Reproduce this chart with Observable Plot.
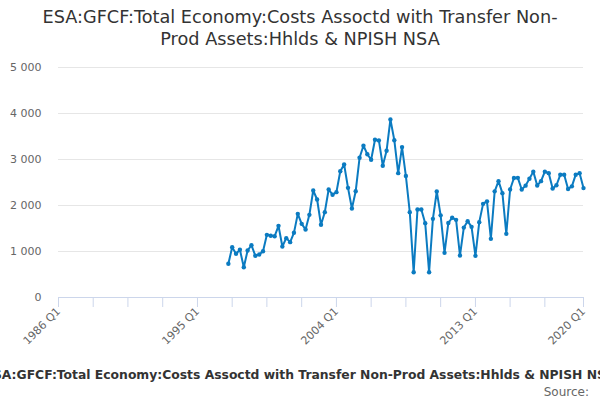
<!DOCTYPE html>
<html>
<head>
<meta charset="utf-8">
<script src="https://cdn.jsdelivr.net/npm/d3@7"></script>
<script src="https://cdn.jsdelivr.net/npm/@observablehq/plot@0.6"></script>
<style>
  html, body { margin: 0; padding: 0; background: #fff; overflow: hidden; }
  body { width: 600px; height: 400px; font-family: "DejaVu Sans", Verdana, sans-serif; }
  #title { height: 55px; box-sizing: border-box; padding-top: 6px; text-align: center; font-size: 17.7px; line-height: 22px; color: #333; }
  #caption { position: relative; height: 40px; }
  #caption .main { position: absolute; left: 50%; top: 8px; transform: translateX(-50%); white-space: nowrap; font-size: 12.35px; font-weight: bold; color: #333; }
  #caption .src { position: absolute; right: 11px; top: 25px; font-size: 12px; color: #666; }
</style>
</head>
<body>
<div id="title">ESA:GFCF:Total Economy:Costs Assoctd with Transfer Non-<br>Prod Assets:Hhlds &amp; NPISH NSA</div>
<div id="chart"></div>
<div id="caption"><span class="main">ESA:GFCF:Total Economy:Costs Assoctd with Transfer Non-Prod Assets:Hhlds &amp; NPISH NSA</span><span class="src">Source:</span></div>
<script>
const titleText = "ESA:GFCF:Total Economy:Costs Assoctd with Transfer Non-Prod Assets:Hhlds & NPISH NSA";
const firstQuarter = "1997 Q1";
const values = [
  733,1094,950,1037,659,1022,1137,906,935,1007,
  1362,1341,1333,1558,1109,1290,1203,1406,1819,1601,
  1478,1797,2326,2130,1580,1855,2348,2235,2290,2745,
  2891,2384,1935,2311,3037,3300,3115,2995,3430,3415,
  2865,3190,3870,3420,2703,3270,2640,1855,550,1913,
  1913,1616,550,1710,2304,1786,971,1620,1735,1688,
  913,1520,1659,1536,905,1638,2036,2090,1275,2308,
  2529,2268,1384,2348,2598,2601,2348,2432,2580,2736,
  2435,2529,2736,2703,2370,2440,2667,2670,2358,2416,
  2670,2703,2378
];
const tickQuarters = ["1986 Q1","1988 Q2","1990 Q3","1992 Q4","1995 Q1","1997 Q2","1999 Q3","2001 Q4",
  "2004 Q1","2006 Q2","2008 Q3","2010 Q4","2013 Q1","2015 Q2","2017 Q3","2020 Q1"];
const labelQuarters = ["1986 Q1","1995 Q1","2004 Q1","2013 Q1","2020 Q1"];
const yTicks = [0, 1000, 2000, 3000, 4000, 5000];
const xDomain = ["1986 Q1", "2020 Q1"];

function parseQ(s) {
  const [y, q] = s.split(" Q");
  return new Date(Date.UTC(+y, (+q - 1) * 3, 1));
}
function fmtQ(d) {
  return d.getUTCFullYear() + " Q" + (Math.floor(d.getUTCMonth() / 3) + 1);
}
const start = parseQ(firstQuarter);
const data = values.map((v, i) => ({
  date: new Date(Date.UTC(start.getUTCFullYear() + Math.floor(i / 4), (i % 4) * 3, 1)),
  value: v
}));
const fmtY = v => d3.format(",")(v).replace(/,/g, " ");
const color = "#0b7bc1";

const chart = Plot.plot({
  width: 600,
  height: 305,
  marginLeft: 58,
  marginRight: 17,
  marginTop: 12,
  marginBottom: 63,
  style: { fontFamily: "DejaVu Sans, Verdana, sans-serif", fontSize: "11px", background: "#fff", overflow: "visible" },
  x: { type: "utc", domain: xDomain.map(parseQ), axis: null },
  y: { domain: [0, 5000], axis: null },
  marks: [
    Plot.gridY(yTicks, { stroke: "#e6e6e6", strokeOpacity: 1 }),
    Plot.axisY(yTicks, { tickSize: 0, tickPadding: 17, tickFormat: fmtY, fill: "#666", label: null }),
    Plot.ruleY([0], { stroke: "#ccd6eb", strokeOpacity: 1 }),
    Plot.axisX(tickQuarters.map(parseQ), { tickSize: 10, stroke: "#ccd6eb", strokeOpacity: 1, tickFormat: () => "", label: null }),
    Plot.axisX(labelQuarters.map(parseQ), { tickSize: 0, tickPadding: 12, tickRotate: -45, tickFormat: fmtQ, fill: "#666", label: null }),
    Plot.line(data, { x: "date", y: "value", stroke: color, strokeWidth: 2 }),
    Plot.dot(data, { x: "date", y: "value", fill: color, r: 2.2 })
  ]
});
document.getElementById("chart").appendChild(chart);
</script>
</body>
</html>
